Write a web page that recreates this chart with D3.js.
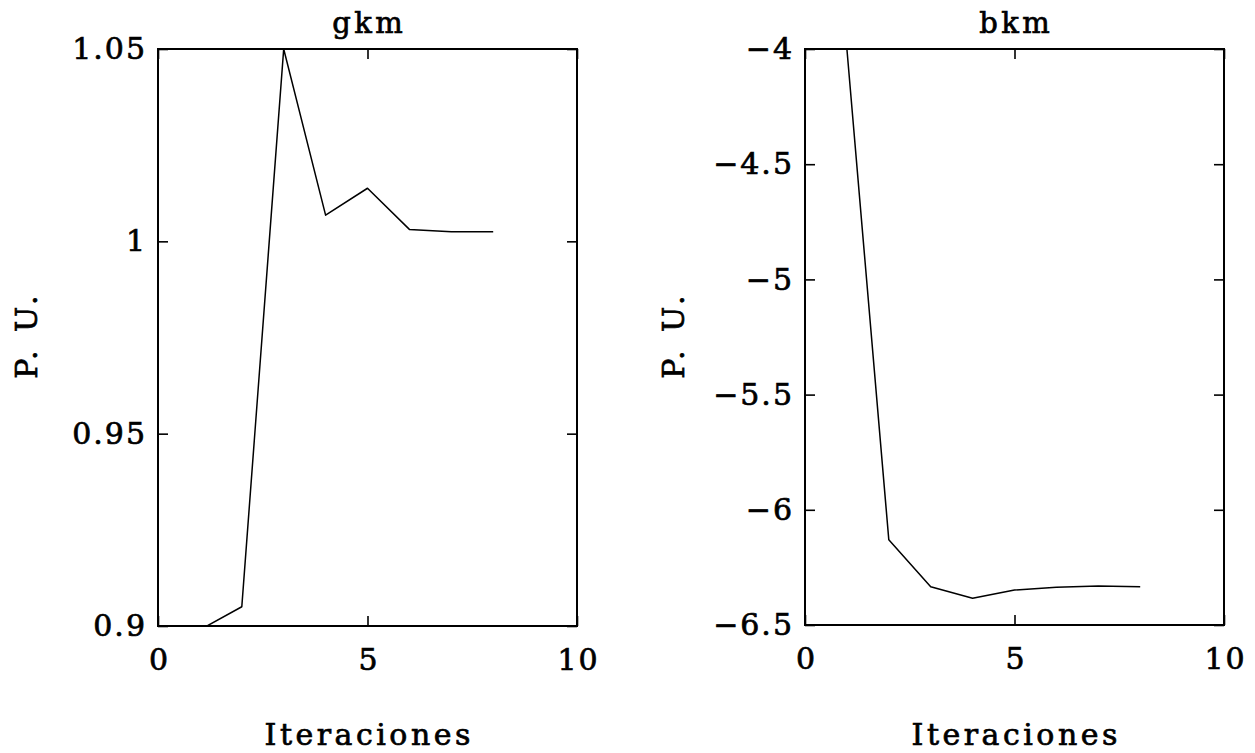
<!DOCTYPE html>
<html>
<head>
<meta charset="utf-8">
<script src="https://cdn.jsdelivr.net/npm/d3@7"></script>
<style>
  body { margin: 0; background: #fff; }
  text { font-family: "DejaVu Serif", serif; fill: #000; stroke: #000; stroke-width: 0.7px; }
</style>
</head>
<body>
<svg id="chart" width="1255" height="753"></svg>
<script>
// iteration number (x) for both panels
const iters = [1, 2, 3, 4, 5, 6, 7, 8];
// gkm values, P.U.
const gkm = [0.899, 0.905, 1.05, 1.0068, 1.0138, 1.0031, 1.0025, 1.0025];
// bkm values, P.U.
const bkm = [-4.0, -6.13, -6.334, -6.384, -6.348, -6.336, -6.331, -6.334];

const xTicks = [0, 5, 10];
const xTickLabels = ["0", "5", "10"];
const gkmTicks = [0.9, 0.95, 1, 1.05];
const gkmTickLabels = ["0.9", "0.95", "1", "1.05"];
const bkmTicks = [-6.5, -6, -5.5, -5, -4.5, -4];
const bkmTickLabels = ["\u22126.5", "\u22126", "\u22125.5", "\u22125", "\u22124.5", "\u22124"];

const svg = d3.select("#chart");
const TLS = 2;   // letter spacing, tick labels
const LS = 3.5;  // letter spacing, titles and axis labels

function panel(opts) {
  const { left, right, top, bottom, yDomain, yTicks, yLabels, values, title, id } = opts;
  const x = d3.scaleLinear().domain([0, 10]).range([left, right]);
  const y = d3.scaleLinear().domain(yDomain).range([bottom, top]);
  const g = svg.append("g").attr("id", id);

  g.append("clipPath").attr("id", id + "-clip")
    .append("rect").attr("x", left).attr("y", top)
    .attr("width", right - left).attr("height", bottom - top);

  const line = d3.line().x((d, i) => x(iters[i])).y(d => y(d));
  g.append("path")
    .datum(values)
    .attr("clip-path", `url(#${id}-clip)`)
    .attr("fill", "none")
    .attr("stroke", "#000")
    .attr("stroke-width", 1.5)
    .attr("stroke-linejoin", "round")
    .attr("d", line);

  // inward ticks on all four sides, MATLAB style
  const bottomAx = g.append("g").attr("transform", `translate(0,${bottom})`)
    .call(d3.axisBottom(x).tickValues(xTicks).tickFormat((d, i) => xTickLabels[i])
      .tickSizeInner(-10).tickSizeOuter(0).tickPadding(23));
  const topAx = g.append("g").attr("transform", `translate(0,${top})`)
    .call(d3.axisTop(x).tickValues(xTicks).tickFormat("").tickSizeInner(-10).tickSizeOuter(0));
  const leftAx = g.append("g").attr("transform", `translate(${left},0)`)
    .call(d3.axisLeft(y).tickValues(yTicks).tickFormat((d, i) => yLabels[i])
      .tickSizeInner(-10).tickSizeOuter(0).tickPadding(15 - TLS));
  const rightAx = g.append("g").attr("transform", `translate(${right},0)`)
    .call(d3.axisRight(y).tickValues(yTicks).tickFormat("").tickSizeInner(-10).tickSizeOuter(0));

  [bottomAx, topAx, leftAx, rightAx].forEach(a => {
    a.select(".domain").remove();
    a.selectAll(".tick line").attr("stroke", "#000").attr("stroke-width", 1.6);
    a.selectAll("text").attr("font-family", null).attr("font-size", 30)
      .attr("fill", "#000").style("letter-spacing", TLS + "px");
  });
  bottomAx.selectAll("text").attr("dx", TLS / 2);
  leftAx.selectAll("text").attr("dx", TLS);

  g.append("rect")
    .attr("x", left).attr("y", top)
    .attr("width", right - left).attr("height", bottom - top)
    .attr("fill", "none").attr("stroke", "#000").attr("stroke-width", 2);

  const cx = (left + right) / 2;
  g.append("text").attr("x", cx + LS / 2).attr("y", 33)
    .attr("text-anchor", "middle").attr("font-size", 29)
    .style("letter-spacing", LS + "px").text(title);
  g.append("text").attr("x", cx + LS / 2).attr("y", 745)
    .attr("text-anchor", "middle").attr("font-size", 30)
    .style("letter-spacing", LS + "px").text("Iteraciones");
  g.append("text")
    .attr("transform", `translate(${left - 121},337) rotate(-90)`)
    .attr("text-anchor", "middle").attr("dx", 4.5 / 2)
    .attr("font-size", 30).style("letter-spacing", "4.5px").text("P. U.");
}

panel({ id: "gkm", left: 158, right: 577, top: 49, bottom: 626,
  yDomain: [0.9, 1.05], yTicks: gkmTicks, yLabels: gkmTickLabels, values: gkm, title: "gkm" });
panel({ id: "bkm", left: 805, right: 1224, top: 49, bottom: 625,
  yDomain: [-6.5, -4], yTicks: bkmTicks, yLabels: bkmTickLabels, values: bkm, title: "bkm" });
</script>
</body>
</html>
